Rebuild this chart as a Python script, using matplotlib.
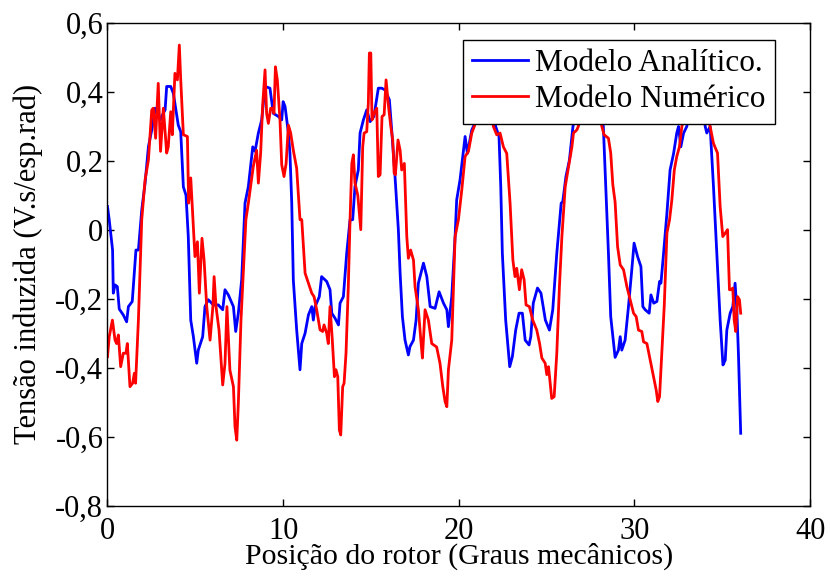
import numpy as np
import matplotlib
matplotlib.use("Agg")
import matplotlib.pyplot as plt

# %% data
x_analitico = [0.0, 0.1, 0.29, 0.33, 0.43, 0.56, 0.67, 0.9, 1.09, 1.19, 1.41, 1.62, 1.76, 1.95,
               2.14, 2.33, 2.52, 2.71, 3.0, 3.08, 3.28, 3.37, 3.6, 3.75, 4.03, 4.17, 4.32, 4.47,
               4.6, 4.74, 4.89, 5.08, 5.17, 5.42, 5.55, 5.74, 6.03, 6.31, 6.56, 6.69, 6.88, 7.17,
               7.3, 7.45, 7.64, 7.83, 8.02, 8.27, 8.4, 8.59, 8.78, 8.97, 9.25, 9.44, 9.73, 9.92,
               10.0, 10.11, 10.3, 10.39, 10.49, 10.58, 10.77, 10.96, 11.06, 11.25, 11.44, 11.63,
               11.72, 11.82, 12.06, 12.19, 12.48, 12.67, 12.77, 12.96, 13.15, 13.24, 13.43, 13.62,
               13.81, 13.96, 14.09, 14.28, 14.38, 14.57, 14.76, 14.95, 15.17, 15.42, 15.61, 15.8,
               16.05, 16.18, 16.37, 16.56, 16.66, 16.79, 16.94, 17.13, 17.22, 17.42, 17.57, 17.7,
               17.99, 18.18, 18.37, 18.65, 18.88, 19.13, 19.32, 19.41, 19.6, 19.79, 19.88, 20.07,
               20.36, 20.49, 20.74, 20.93, 21.2, 21.5, 21.8, 22.1, 22.29, 22.39, 22.48, 22.67,
               22.9, 23.05, 23.24, 23.43, 23.62, 23.78, 24.0, 24.1, 24.24, 24.48, 24.68, 24.93,
               25.16, 25.35, 25.58, 25.83, 25.92, 26.1, 26.3, 26.5, 26.8, 27.2, 27.6, 28.0, 28.23,
               28.33, 28.52, 28.65, 28.9, 29.09, 29.19, 29.28, 29.47, 29.66, 29.85, 29.98, 30.18,
               30.37, 30.48, 30.61, 30.84, 30.94, 31.1, 31.28, 31.43, 31.51, 31.66, 31.85, 32.03,
               32.23, 32.41, 32.51, 32.64, 32.8, 32.98, 33.3, 33.6, 33.9, 34.03, 34.12, 34.31,
               34.5, 34.69, 34.88, 35.04, 35.17, 35.26, 35.45, 35.6, 35.73, 35.83, 35.92, 36.05]
y_analitico = [0.067, 0.028, -0.059, -0.184, -0.16, -0.165, -0.23, -0.247, -0.267, -0.223, -0.208,
               -0.059, -0.059, 0.057, 0.135, 0.24, 0.289, 0.352, 0.318, 0.328, 0.347, 0.415, 0.415,
               0.395, 0.303, 0.284, 0.124, 0.1, -0.02, -0.262, -0.31, -0.387, -0.349, -0.31, -0.223,
               -0.203, -0.218, -0.218, -0.232, -0.174, -0.189, -0.223, -0.295, -0.242, -0.145,
               0.077, 0.125, 0.24, 0.227, 0.28, 0.318, 0.415, 0.41, 0.337, 0.328, 0.318, 0.371,
               0.357, 0.28, 0.22, 0.077, -0.146, -0.29, -0.406, -0.33, -0.3, -0.247, -0.223,
               -0.262, -0.223, -0.194, -0.136, -0.15, -0.174, -0.242, -0.257, -0.276, -0.213,
               -0.194, -0.068, 0.029, 0.029, 0.125, 0.173, 0.28, 0.318, 0.347, 0.313, 0.328, 0.41,
               0.41, 0.405, 0.376, 0.289, 0.154, 0.0, -0.126, -0.252, -0.32, -0.363, -0.339, -0.32,
               -0.262, -0.155, -0.097, -0.136, -0.223, -0.228, -0.18, -0.213, -0.232, -0.281,
               -0.194, -0.02, 0.086, 0.144, 0.27, 0.221, 0.289, 0.31, 0.38, 0.41, 0.4, 0.299, 0.27,
               0.125, -0.068, -0.262, -0.397, -0.368, -0.291, -0.242, -0.242, -0.32, -0.334, -0.31,
               -0.213, -0.169, -0.184, -0.262, -0.291, -0.232, -0.068, 0.077, 0.081, 0.154, 0.202,
               0.299, 0.37, 0.41, 0.4, 0.36, 0.299, 0.173, -0.068, -0.252, -0.37, -0.349, -0.31,
               -0.349, -0.32, -0.223, -0.116, -0.039, -0.078, -0.107, -0.223, -0.232, -0.242,
               -0.189, -0.213, -0.208, -0.15, -0.155, -0.068, 0.048, 0.173, 0.221, 0.28, 0.299,
               0.24, 0.28, 0.299, 0.38, 0.41, 0.36, 0.299, 0.28, 0.299, 0.125, -0.068, -0.262,
               -0.392, -0.378, -0.291, -0.242, -0.223, -0.155, -0.232, -0.358, -0.59]

x_numerico = [0.0, 0.1, 0.28, 0.43, 0.52, 0.62, 0.75, 0.9, 1.05, 1.13, 1.28, 1.43, 1.53, 1.6, 1.76,
              1.95, 2.14, 2.33, 2.52, 2.61, 2.74, 2.89, 3.02, 3.18, 3.37, 3.46, 3.6, 3.69, 3.84,
              3.98, 4.09, 4.17, 4.32, 4.55, 4.62, 4.74, 4.98, 5.12, 5.23, 5.38, 5.5, 5.65, 5.84,
              6.0, 6.07, 6.18, 6.35, 6.56, 6.69, 6.8, 6.97, 7.17, 7.26, 7.36, 7.45, 7.6, 7.73,
              7.88, 8.02, 8.3, 8.49, 8.59, 8.72, 8.83, 8.97, 9.06, 9.16, 9.29, 9.4, 9.48, 9.56,
              9.67, 9.82, 9.92, 10.05, 10.17, 10.3, 10.43, 10.58, 10.77, 10.96, 11.06, 11.25,
              11.44, 11.63, 11.76, 11.91, 12.1, 12.25, 12.33, 12.48, 12.57, 12.67, 12.8, 12.92,
              13.01, 13.11, 13.2, 13.28, 13.39, 13.47, 13.58, 13.71, 13.81, 13.91, 14.0, 14.09,
              14.25, 14.34, 14.42, 14.53, 14.61, 14.76, 14.85, 14.91, 14.99, 15.06, 15.17, 15.33,
              15.42, 15.52, 15.63, 15.75, 15.86, 16.0, 16.13, 16.24, 16.32, 16.39, 16.54, 16.66,
              16.75, 16.9, 17.04, 17.13, 17.26, 17.42, 17.51, 17.7, 17.84, 17.93, 18.08, 18.27,
              18.46, 18.74, 18.93, 19.09, 19.22, 19.32, 19.41, 19.6, 19.7, 19.79, 19.98, 20.17,
              20.36, 20.55, 20.74, 20.89, 21.2, 21.5, 21.8, 21.97, 22.16, 22.35, 22.54, 22.73,
              22.92, 23.08, 23.2, 23.3, 23.45, 23.58, 23.72, 23.83, 24.02, 24.21, 24.44, 24.6,
              24.73, 24.92, 25.01, 25.11, 25.29, 25.43, 25.58, 25.73, 25.87, 26.06, 26.25, 26.44,
              26.53, 26.72, 26.81, 27.1, 27.5, 27.9, 28.14, 28.27, 28.52, 28.65, 28.77, 28.9,
              29.04, 29.19, 29.38, 29.57, 29.76, 29.95, 30.1, 30.23, 30.42, 30.52, 30.71, 30.9,
              31.09, 31.24, 31.33, 31.43, 31.56, 31.7, 31.85, 32.0, 32.13, 32.27, 32.41, 32.56,
              32.7, 33.0, 33.4, 33.8, 34.1, 34.31, 34.5, 34.73, 34.88, 35.03, 35.17, 35.3, 35.41,
              35.51, 35.6, 35.68, 35.77, 35.87, 35.98, 36.05]
y_numerico = [-0.368, -0.31, -0.262, -0.32, -0.33, -0.305, -0.397, -0.358, -0.358, -0.33, -0.455,
              -0.445, -0.416, -0.445, -0.262, 0.029, 0.144, 0.202, 0.347, 0.352, 0.265, 0.424,
              0.227, 0.352, 0.222, 0.24, 0.342, 0.275, 0.453, 0.434, 0.535, 0.434, 0.275, 0.27,
              0.077, 0.15, -0.078, -0.035, -0.184, -0.025, -0.088, -0.223, -0.32, -0.223, -0.136,
              -0.223, -0.291, -0.45, -0.388, -0.223, -0.407, -0.455, -0.571, -0.61, -0.503,
              -0.262, -0.126, 0.029, 0.077, 0.183, 0.23, 0.135, 0.222, 0.357, 0.463, 0.337, 0.308,
              0.352, 0.352, 0.337, 0.472, 0.434, 0.318, 0.188, 0.154, 0.192, 0.303, 0.28, 0.23,
              0.178, 0.029, 0.029, -0.126, -0.155, -0.184, -0.194, -0.232, -0.29, -0.295, -0.276,
              -0.3, -0.33, -0.223, -0.32, -0.426, -0.406, -0.426, -0.58, -0.595, -0.455, -0.445,
              -0.358, -0.165, 0.029, 0.192, 0.217, 0.135, 0.1, 0.048, 0.0, 0.24, 0.28, 0.284,
              0.367, 0.512, 0.512, 0.318, 0.337, 0.352, 0.154, 0.159, 0.328, 0.333, 0.434, 0.357,
              0.299, 0.26, 0.164, 0.159, 0.26, 0.23, 0.173, 0.192, -0.02, -0.083, -0.059, -0.088,
              -0.165, -0.232, -0.32, -0.372, -0.232, -0.262, -0.33, -0.34, -0.387, -0.455, -0.498,
              -0.513, -0.406, -0.32, -0.165, -0.02, 0.029, 0.115, 0.212, 0.227, 0.28, 0.3, 0.38,
              0.42, 0.36, 0.299, 0.275, 0.28, 0.24, 0.221, 0.077, -0.088, -0.136, -0.112, -0.174,
              -0.116, -0.145, -0.218, -0.223, -0.262, -0.291, -0.33, -0.372, -0.387, -0.42,
              -0.397, -0.489, -0.484, -0.358, -0.165, -0.02, 0.125, 0.183, 0.24, 0.28, 0.289, 0.3,
              0.38, 0.43, 0.37, 0.3, 0.275, 0.265, 0.222, 0.13, 0.08, -0.049, -0.102, -0.116,
              -0.165, -0.203, -0.242, -0.252, -0.291, -0.295, -0.325, -0.33, -0.378, -0.426,
              -0.465, -0.498, -0.484, -0.358, -0.218, -0.01, 0.029, 0.086, 0.173, 0.212, 0.24,
              0.299, 0.37, 0.42, 0.4, 0.34, 0.299, 0.25, 0.222, 0.067, -0.02, -0.01, 0.0, -0.174,
              -0.174, -0.169, -0.262, -0.295, -0.194, -0.203, -0.242]

xticks = [0, 10, 20, 30, 40]
yticks = [-0.8, -0.6, -0.4, -0.2, 0, 0.2, 0.4, 0.6]
ytick_labels = ["-0,8", "-0,6", "-0,4", "-0,2", "0", "0,2", "0,4", "0,6"]

# %% Plot
plt.rcParams['font.family'] = ['Liberation Serif', 'DejaVu Serif']

fig = plt.figure(figsize=(8.3, 5.8), dpi=100)
ax = fig.add_axes([0.1295, 0.128, 0.8465, 0.833])
ax.plot(x_analitico, y_analitico, color=(0, 0, 1), lw=2, label="Modelo Analítico.")
ax.plot(x_numerico, y_numerico, color=(1, 0, 0), lw=2, label="Modelo Numérico")
ax.set_xlim(0, 40)
ax.set_ylim(-0.8, 0.6)
ax.set_xticks(xticks)
ax.set_yticks(yticks)
ax.set_yticklabels(ytick_labels)
ax.tick_params(direction="in", top=True, right=True, labelsize=22, length=5, width=1)
ax.tick_params(axis="x", pad=8)
ax.tick_params(axis="y", pad=3)
for s in ax.spines.values():
    s.set_linewidth(1)
ax.set_xlabel("Posição do rotor (Graus mecânicos)", fontsize=21.5, labelpad=-2)
ax.set_ylabel("Tensão induzida (V.s/esp.rad)", fontsize=22, labelpad=9)
leg = ax.legend(loc="upper right", bbox_to_anchor=(0.9335, 0.931),
                bbox_transform=fig.transFigure, borderaxespad=0,
                fontsize=22.5, fancybox=False, framealpha=1, edgecolor="black",
                handlelength=1.8, handletextpad=0.22, borderpad=0.3, labelspacing=0.22)
leg.get_frame().set_linewidth(1)
fig.savefig("out.png", dpi=100)
